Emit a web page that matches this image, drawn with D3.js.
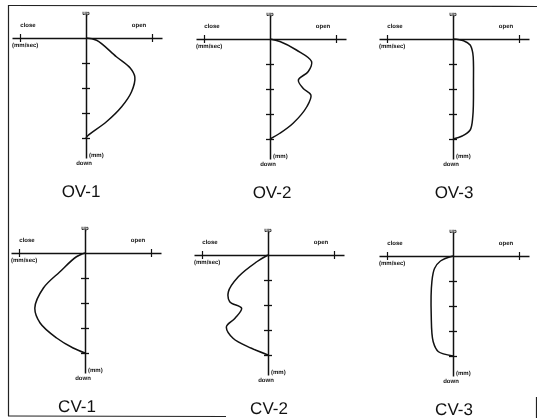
<!DOCTYPE html>
<html>
<head>
<meta charset="utf-8">
<script src="https://cdn.jsdelivr.net/npm/d3@7"></script>
<style>
  html, body { margin: 0; padding: 0; background: #fff; }
  svg { display: block; will-change: transform; transform: translateZ(0); }
  .lbl { font-family: "Liberation Sans", Arial, sans-serif; font-size: 6px; font-weight: bold; fill: #111; text-rendering: geometricPrecision; }
  .ttl { font-family: "Liberation Sans", Arial, sans-serif; font-size: 17px; fill: #111; text-rendering: geometricPrecision; }
</style>
</head>
<body>
<script>
// ---- Data (depth in tick units 0..4, velocity normalised to the ±1 ticks) ----
const panelNames = ["OV-1", "OV-2", "OV-3", "CV-1", "CV-2", "CV-3"];
const velocityTicks = [-1, 1];
const depthTicks = [1, 2, 3, 4];
const axisLabels = { close: "close", open: "open", up: "up", down: "down", vel: "(mm/sec)", depth: "(mm)" };

const ov1Depth = [0, 0.09, 0.75, 1.2, 1.56, 2.15, 2.75, 3.35, 3.9, 4];
const ov1Vel   = [0, 0.16, 0.46, 0.67, 0.74, 0.69, 0.54, 0.31, 0.03, 0];

const ov2Depth = [0, 0.1, 0.44, 0.9, 1.3, 1.64, 1.97, 2.24, 2.7, 3.37, 3.77, 4];
const ov2Vel   = [0, 0.15, 0.4, 0.63, 0.58, 0.43, 0.5, 0.62, 0.56, 0.35, 0.15, 0];

const ov3Depth = [0, 0.07, 0.24, 0.57, 1.77, 3.1, 3.64, 3.88, 4];
const ov3Vel   = [0, 0.16, 0.26, 0.3, 0.31, 0.3, 0.26, 0.14, 0];

const cv1Depth = [0, 0.15, 0.75, 1.4, 2.2, 2.8, 3.4, 3.8, 4];
const cv1Vel   = [0, -0.13, -0.38, -0.63, -0.76, -0.68, -0.43, -0.18, 0];

const cv2Depth = [0, 0.27, 0.87, 1.47, 1.87, 2.13, 2.53, 2.87, 3.33, 3.73, 4];
const cv2Vel   = [0, -0.17, -0.45, -0.6, -0.58, -0.4, -0.5, -0.63, -0.53, -0.25, 0];

const cv3Depth = [0, 0.2, 0.5, 1.03, 2.36, 3.43, 3.83, 4];
const cv3Vel   = [0, -0.19, -0.28, -0.32, -0.33, -0.3, -0.22, 0];

const profiles = [
  { name: panelNames[0], depth: ov1Depth, vel: ov1Vel },
  { name: panelNames[1], depth: ov2Depth, vel: ov2Vel },
  { name: panelNames[2], depth: ov3Depth, vel: ov3Vel },
  { name: panelNames[3], depth: cv1Depth, vel: cv1Vel },
  { name: panelNames[4], depth: cv2Depth, vel: cv2Vel },
  { name: panelNames[5], depth: cv3Depth, vel: cv3Vel }
];

// ---- Layout ----
const W = 537, H = 418;
const origins = [[86, 38], [270, 39], [453, 39], [85, 253], [268, 255], [453, 256]];
const titleDx = [-5, 2, 1, -8, 1, 1];

const svg = d3.select("body").append("svg").attr("width", W).attr("height", H);

// frame (scanned page border)
const frame = svg.append("g").attr("stroke", "#222").attr("stroke-width", 1.2).attr("fill", "none");
frame.append("line").attr("x1", 9).attr("y1", 5.5).attr("x2", 537).attr("y2", 6.5);
frame.append("line").attr("x1", 8.5).attr("y1", 5).attr("x2", 8.5).attr("y2", 416);
frame.append("line").attr("x1", 8).attr("y1", 416).attr("x2", 226).attr("y2", 416.5);
frame.append("line").attr("x1", 536.5).attr("y1", 397).attr("x2", 536.5).attr("y2", 418);

// scales: ±1 velocity -> ±66 px, axis line extends to -74..76
const x = d3.scaleLinear().domain([-74 / 66, 76 / 66]).range([-74, 76]);
const y = d3.scaleLinear().domain([-24 / 25, 120 / 25]).range([-24, 120]);

const line = d3.line()
  .x(d => x(d[1]))
  .y(d => y(d[0]))
  .curve(d3.curveCatmullRom.alpha(0.5));

profiles.forEach((p, i) => {
  const [ox, oy] = origins[i];
  const g = svg.append("g").attr("transform", `translate(${ox},${oy})`);

  // horizontal velocity axis
  const xa = g.append("g").call(d3.axisBottom(x).tickValues(velocityTicks).tickSize(0).tickFormat(""));
  xa.select(".domain").attr("stroke", "#111").attr("stroke-width", 1.4);
  xa.selectAll(".tick line").attr("y1", -4).attr("y2", 4).attr("stroke", "#111").attr("stroke-width", 1.2);

  // vertical depth axis
  const ya = g.append("g").call(d3.axisLeft(y).tickValues(depthTicks).tickSize(0).tickFormat(""));
  ya.select(".domain").attr("stroke", "#111").attr("stroke-width", 1.5);
  ya.selectAll(".tick line").attr("x1", -4).attr("x2", 4).attr("stroke", "#111").attr("stroke-width", 1.3);

  // velocity profile curve
  const pts = p.depth.map((d, k) => [d, p.vel[k]]);
  g.append("path").datum(pts).attr("d", line)
    .attr("fill", "none").attr("stroke", "#111").attr("stroke-width", 1.5);

  // labels
  const lab = g.append("g").attr("fill", "#111");
  lab.append("text").attr("class", "lbl").attr("x", 0).attr("y", -23).attr("text-anchor", "middle").text(axisLabels.up);
  lab.append("text").attr("class", "lbl").attr("x", -58).attr("y", -11).attr("text-anchor", "middle").text(axisLabels.close);
  lab.append("text").attr("class", "lbl").attr("x", 53).attr("y", -11).attr("text-anchor", "middle").text(axisLabels.open);
  lab.append("text").attr("class", "lbl").attr("x", -74).attr("y", 9).text(axisLabels.vel);
  lab.append("text").attr("class", "lbl").attr("x", 3).attr("y", 119).text(axisLabels.depth);
  lab.append("text").attr("class", "lbl").attr("x", -2).attr("y", 127).attr("text-anchor", "middle").text(axisLabels.down);

  // title
  g.append("text").attr("class", "ttl").attr("x", titleDx[i]).attr("y", 159)
    .attr("text-anchor", "middle").text(p.name);
});
</script>
</body>
</html>
